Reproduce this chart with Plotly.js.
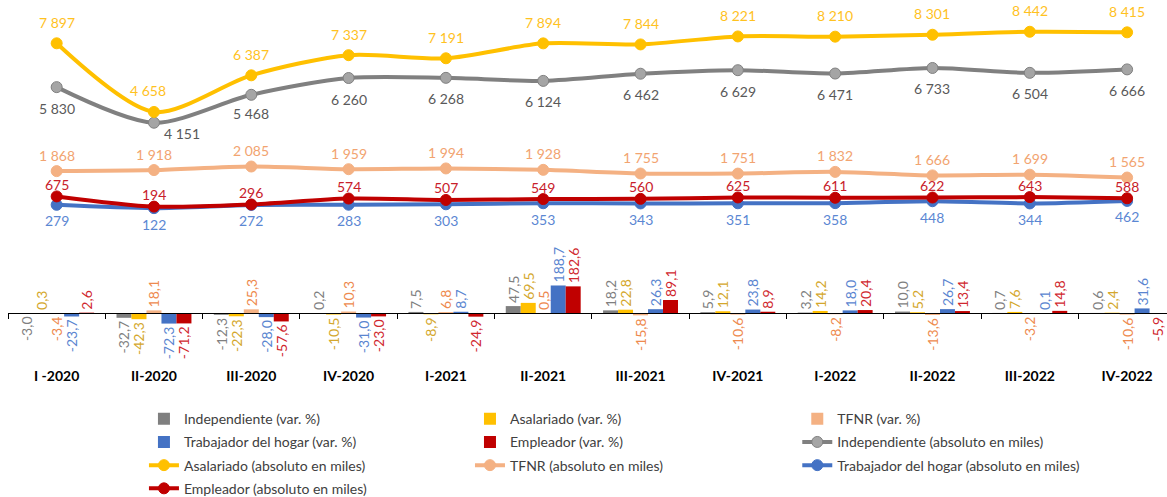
<!DOCTYPE html>
<html><head><meta charset="utf-8">
<script src="https://cdn.plot.ly/plotly-3.0.1.min.js"></script>
<style>html,body{margin:0;padding:0;background:#fff;} #chart{width:1167px;height:497px;}</style>
</head><body><div id="chart"></div>
<script>
const categories = ["I -2020","II-2020","III-2020","IV-2020","I-2021","II-2021","III-2021","IV-2021","I-2022","II-2022","III-2022","IV-2022"];

// variaciones %
const indepVar = [-3.0,-32.7,-12.3,0.2,7.5,47.5,18.2,5.9,3.2,10.0,0.7,0.6];
const asalVar  = [0.3,-42.3,-22.3,-10.5,-8.9,69.5,22.8,12.1,14.2,5.2,7.6,2.4];
const tfnrVar  = [-3.4,18.1,25.3,10.3,6.8,0.5,-15.8,-10.6,-8.2,-13.6,-3.2,-10.6];
const thVar    = [-23.7,-72.3,-28.0,-31.0,8.7,188.7,26.3,23.8,18.0,26.7,0.1,31.6];
const empVar   = [2.6,-71.2,-57.6,-23.0,-24.9,182.6,89.1,8.9,20.4,13.4,14.8,-5.9];

// absolutos en miles
const indepAbs = [5830,4151,5468,6260,6268,6124,6462,6629,6471,6733,6504,6666];
const asalAbs  = [7897,4658,6387,7337,7191,7894,7844,8221,8210,8301,8442,8415];
const tfnrAbs  = [1868,1918,2085,1959,1994,1928,1755,1751,1832,1666,1699,1565];
const thAbs    = [279,122,272,283,303,353,343,351,358,448,344,462];
const empAbs   = [675,194,296,574,507,549,560,625,611,622,643,588];

const FONT = "Lato, 'Open Sans', sans-serif";
const fmtPct = v => v.toFixed(1).replace('.', ',');
const fmtAbs = v => String(Math.round(v)).replace(/\B(?=(\d{3})+(?!\d))/g, ' ');

function barTrace(name, y, color, txtColor, legend) {
  return {
    type: 'bar', name: name, x: categories, y: y, yaxis: 'y2',
    marker: {color: color},
    text: y.map(fmtPct), textposition: 'outside', textangle: -90,
    textfont: {family: FONT, size: 14, color: txtColor},
    constraintext: 'none', cliponaxis: false,
    legend: legend, legendgroup: name, hoverinfo: 'skip'
  };
}
function lineTrace(name, y, color, markerColor, width, legend) {
  return {
    type: 'scatter', mode: 'lines+markers', name: name, x: categories, y: y, yaxis: 'y',
    line: {color: color, width: width, shape: 'spline', smoothing: 0.8},
    marker: {color: markerColor, size: 11, line: {color: color, width: 1}},
    legend: legend, legendgroup: name, hoverinfo: 'skip', cliponaxis: false
  };
}

const traces = [
  barTrace('Independiente (var. %)', indepVar, '#7F7F7F', '#7F7F7F', 'legend'),
  barTrace('Asalariado (var. %)', asalVar, '#FFC000', '#D4A72C', 'legend2'),
  barTrace('TFNR (var. %)', tfnrVar, '#F4B183', '#EE8A4E', 'legend3'),
  barTrace('Trabajador del hogar (var. %)', thVar, '#4472C4', '#5A85D0', 'legend'),
  barTrace('Empleador (var. %)', empVar, '#C00000', '#D0282E', 'legend2'),
  lineTrace('Independiente (absoluto en miles)', indepAbs, '#808080', '#A5A5A5', 4, 'legend3'),
  lineTrace('Asalariado (absoluto en miles)', asalAbs, '#FFC000', '#FFC000', 4, 'legend'),
  lineTrace('TFNR (absoluto en miles)', tfnrAbs, '#F4B183', '#F4B183', 4, 'legend2'),
  lineTrace('Trabajador del hogar (absoluto en miles)', thAbs, '#4472C4', '#4472C4', 4, 'legend3'),
  lineTrace('Empleador (absoluto en miles)', empAbs, '#C00000', '#C00000', 4, 'legend')
];

// line labels as annotations
const annotations = [];
function addLabels(vals, color, yshift, extra) {
  vals.forEach((v, i) => {
    const a = {x: categories[i], y: v, xref: 'x', yref: 'y', text: fmtAbs(v), showarrow: false,
      font: {family: FONT, size: 14, color: color}, yshift: yshift, xshift: 0};
    if (extra && extra[i]) Object.assign(a, extra[i]);
    annotations.push(a);
  });
}
addLabels(asalAbs, '#FFC21F', 21, {1: {xshift: -6}});
addLabels(indepAbs, '#595959', -21, {1: {xshift: 28, yshift: -11}, 2: {yshift: -19}});
addLabels(tfnrAbs, '#F2A470', 16);
addLabels(empAbs, '#C8202A', 12);
addLabels(thAbs, '#5B87D3', -16);

const legendBase = {orientation: 'v', yanchor: 'top', xanchor: 'left', y: -0.171,
  font: {family: FONT, size: 14, color: '#404040'}, tracegroupgap: 2, bgcolor: 'rgba(0,0,0,0)', traceorder: 'grouped'};

const layout = {
  width: 1167, height: 497,
  margin: {l: 8, r: 0, t: 5, b: 152, autoexpand: false},
  paper_bgcolor: '#ffffff', plot_bgcolor: '#ffffff',
  separators: ', ',
  barmode: 'group', bargap: 0.23, bargroupgap: 0,
  xaxis: {
    type: 'category', range: [-0.5, 11.41], anchor: 'free', position: 0.0941,
    showline: true, linecolor: '#000000', linewidth: 1,
    ticks: 'outside', tickson: 'boundaries', ticklen: 5, tickcolor: '#000000',
    tickfont: {family: FONT, size: 14, color: '#000000', weight: 'bold'},
    ticklabelstandoff: 50, showgrid: false, zeroline: false, fixedrange: true, automargin: false
  },
  yaxis: {range: [-6334, 9704], visible: false, showgrid: false, zeroline: false, fixedrange: true},
  yaxis2: {range: [-219, 2110], overlaying: 'y', visible: false, showgrid: false, zeroline: false, fixedrange: true},
  showlegend: true,
  legend: Object.assign({}, legendBase, {x: 0.1173}),
  legend2: Object.assign({}, legendBase, {x: 0.3986}),
  legend3: Object.assign({}, legendBase, {x: 0.681}),
  annotations: annotations
};

Plotly.newPlot('chart', traces, layout, {displayModeBar: false, staticPlot: true});
</script>
</body></html>
